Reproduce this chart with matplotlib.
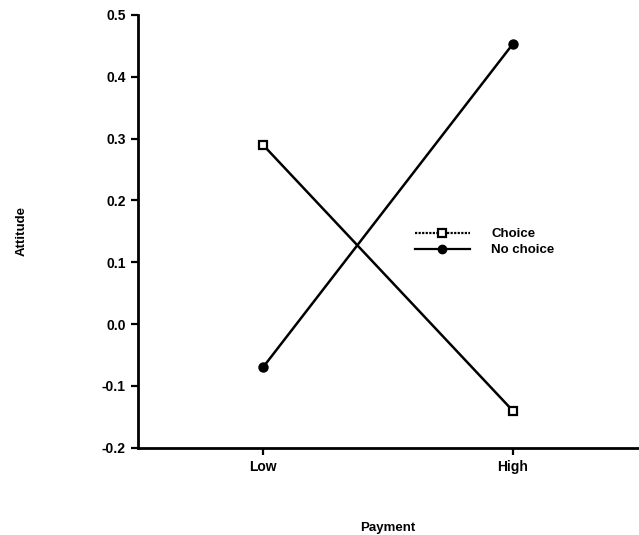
import matplotlib.pyplot as plt
from matplotlib.lines import Line2D

plt.rcParams['font.family'] = ['Liberation Sans', 'DejaVu Sans']
plt.rcParams['font.weight'] = 'bold'
plt.rcParams['axes.labelweight'] = 'bold'
plt.rcParams['axes.unicode_minus'] = False

payment = ['Low', 'High']
choice = [0.29, -0.14]
no_choice = [-0.07, 0.453]
yticks = [-0.2, -0.1, 0.0, 0.1, 0.2, 0.3, 0.4, 0.5]

fig = plt.figure(figsize=(6.39, 5.35), dpi=100)
ax = fig.add_axes([0.216, 0.163, 0.782, 0.809])

x = list(range(len(payment)))
ax.plot(x, choice, color='black', lw=1.8, marker='s', ms=6,
        mfc='white', mec='black', mew=1.6)
ax.plot(x, no_choice, color='black', lw=1.8, marker='o', ms=6.5,
        mfc='black', mec='black')

handles = [
    Line2D([], [], color='black', lw=1.6, ls=(0, (1, 0.6)), marker='s', ms=5.5,
           mfc='white', mec='black', mew=1.6),
    Line2D([], [], color='black', lw=1.6, marker='o', ms=6, mfc='black'),
]
ax.legend(handles, ['Choice', 'No choice'], frameon=False, fontsize=9.5,
          loc='center left', bbox_to_anchor=(0.53, 0.475), handlelength=4.2,
          labelspacing=0.3, handletextpad=1.6)

ax.set_xlim(-0.5, 1.5)
ax.set_ylim(-0.2, 0.5)
ax.set_xticks(x)
ax.set_xticklabels(payment, fontsize=10)
ax.set_yticks(yticks)
ax.set_yticklabels([f'{v:.1f}' for v in yticks], fontsize=10)
ax.spines['top'].set_visible(False)
ax.spines['right'].set_visible(False)
ax.spines['left'].set_linewidth(2)
ax.spines['bottom'].set_linewidth(2)
ax.tick_params(direction='out', length=5, width=1.6, pad=4)

ax.set_xlabel('Payment', fontsize=9.5, labelpad=34)
ax.set_ylabel('Attitude', fontsize=9.5, labelpad=53)

fig.savefig('out.png', dpi=100)
